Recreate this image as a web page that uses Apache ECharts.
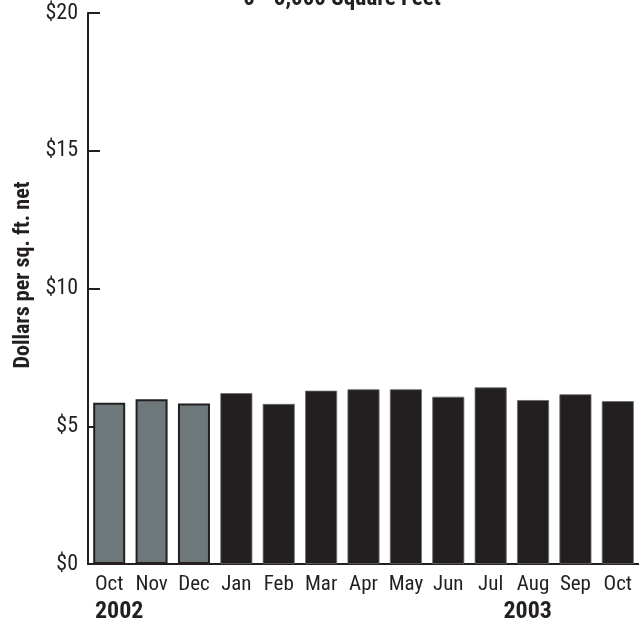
<!DOCTYPE html>
<html>
<head>
<meta charset="utf-8">
<script src="https://cdn.jsdelivr.net/npm/echarts@6/dist/echarts.min.js"></script>
<style>
html,body{margin:0;padding:0;background:#fff;}
#main{width:639px;height:627px;}
</style>
</head>
<body>
<div id="main"></div>
<script>
const categories = ['Oct','Nov','Dec','Jan','Feb','Mar','Apr','May','Jun','Jul','Aug','Sep','Oct'];
const values = [5.85, 5.98, 5.83, 6.20, 5.81, 6.29, 6.34, 6.34, 6.07, 6.41, 5.95, 6.16, 5.91];
const years = ['2002','2002','2002','2003','2003','2003','2003','2003','2003','2003','2003','2003','2003'];
const yearLabels = [{text:'2002', index:0}, {text:'2003', index:9}];
const yTicks = [0, 5, 10, 15, 20];
const titleText = '0 - 5,000 Square Feet';
const yAxisTitle = 'Dollars per sq. ft. net';

const FONT = '"Roboto Condensed", "Roboto", sans-serif';
const DARK = '#231f20';

const chart = echarts.init(document.getElementById('main'), null, {renderer:'canvas'});
const option = {
  animation: false,
  backgroundColor: '#fff',
  grid: {left: 88, right: 0, top: 13, bottom: 63, containLabel: false, outerBoundsMode: 'none'},
  xAxis: {
    type: 'category',
    data: categories,
    axisLine: {show: true, lineStyle: {color: DARK, width: 2}},
    axisTick: {show: false},
    axisLabel: {color: DARK, fontFamily: FONT, fontSize: 21, margin: 10, interval: 0}
  },
  yAxis: {
    type: 'value',
    min: yTicks[0],
    max: yTicks[yTicks.length - 1],
    interval: 5,
    splitLine: {show: false},
    axisLine: {show: true, lineStyle: {color: DARK, width: 2}},
    axisTick: {show: true, inside: true, length: 12, lineStyle: {color: DARK, width: 2}},
    axisLabel: {color: DARK, fontFamily: FONT, fontSize: 22, margin: 10, formatter: v => '$' + v}
  },
  series: [{
    type: 'bar',
    barWidth: 32,
    data: values.map((v, i) => ({
      value: v,
      itemStyle: years[i] === '2002'
        ? {color: '#6e777a', borderColor: DARK, borderWidth: 2}
        : {color: DARK, borderColor: '#6a6a6a', borderWidth: 0.8}
    }))
  }]
};
chart.setOption(option);

const graphics = [];
graphics.push({
  type: 'text', x: 342, y: -1,
  style: {text: titleText, font: 'bold 23px ' + FONT, fill: DARK, align: 'center', verticalAlign: 'middle'}
});
graphics.push({
  type: 'text', x: 23, y: 275, rotation: Math.PI / 2,
  style: {text: yAxisTitle, font: 'bold 22px ' + FONT, fill: DARK, align: 'center', verticalAlign: 'middle'}
});
const offsets = {0: 10, 9: 37};
yearLabels.forEach(y => {
  const p = chart.convertToPixel({xAxisIndex: 0}, y.index);
  graphics.push({
    type: 'text',
    x: p + (offsets[y.index] || 0),
    y: 612,
    style: {text: y.text, font: 'bold 24px ' + FONT, fill: DARK, align: 'center', verticalAlign: 'middle'}
  });
});
chart.setOption({graphic: graphics});
</script>
</body>
</html>
